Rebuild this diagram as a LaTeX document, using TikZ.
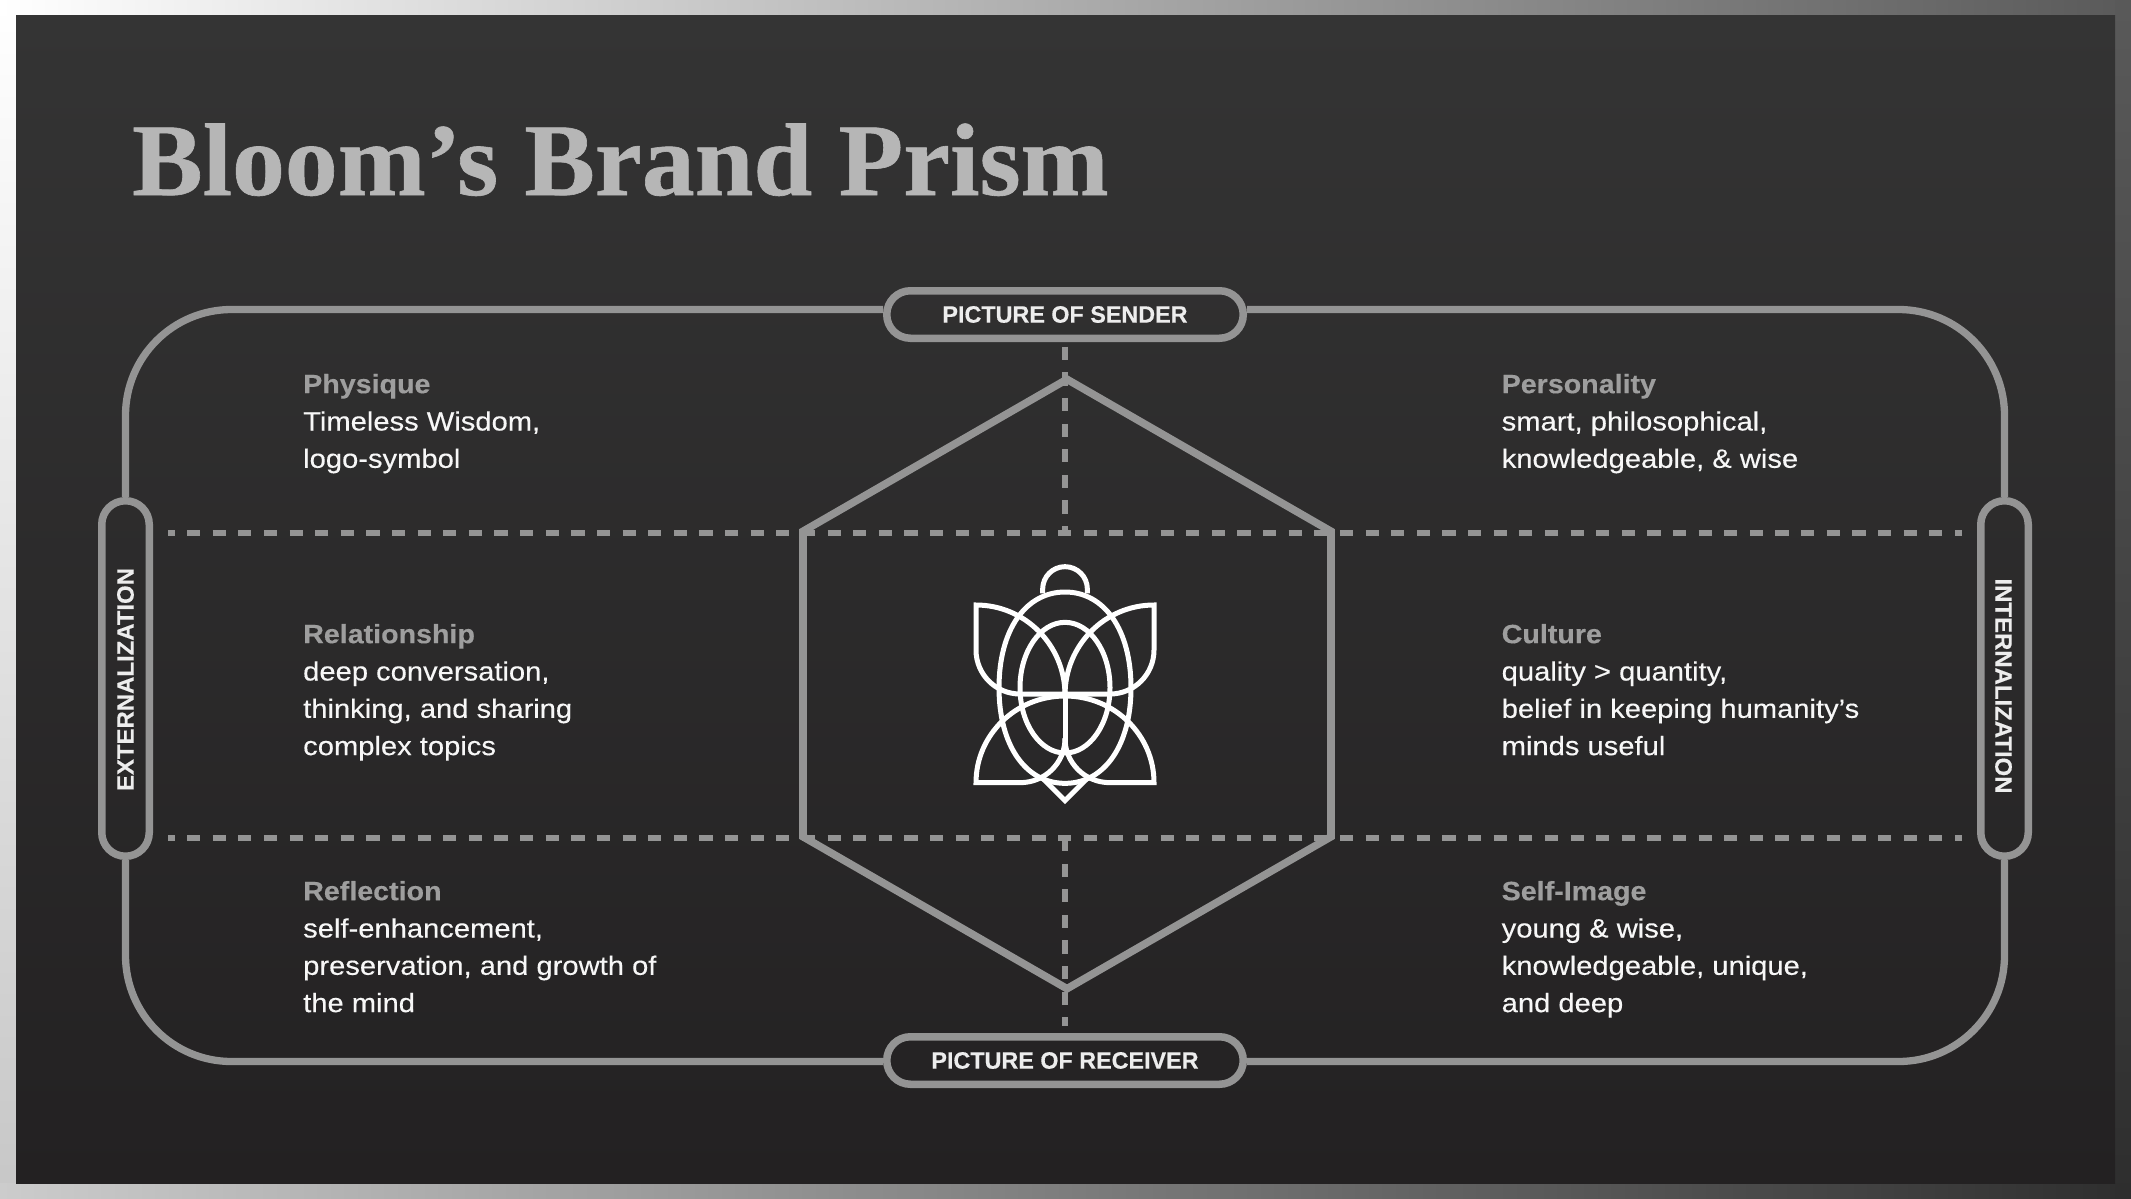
\documentclass[tikz,border=0pt]{standalone}
\usepackage{fontspec}
\setmainfont{Liberation Sans}
\newfontfamily\titlef[BoldFeatures={FakeStretch=1.026,FakeBold=0.6}]{Liberation Serif}
\newfontfamily\bodyf[FakeStretch=1.10,FakeBold=0.25,BoldFeatures={FakeStretch=1.08,FakeBold=0.3}]{Liberation Sans}
\newfontfamily\pillf[BoldFeatures={FakeStretch=0.985,FakeBold=0.35}]{Liberation Sans}
\newfontfamily\sidef[BoldFeatures={FakeStretch=1.01,FakeBold=0.35}]{Liberation Sans}
\definecolor{linec}{HTML}{949494}
\definecolor{headc}{HTML}{9E9E9E}
\definecolor{bodyc}{HTML}{F7F7F7}
\definecolor{pillc}{HTML}{EDEDED}
\definecolor{titlec}{HTML}{B6B6B6}
\tikzset{
  pillbox/.style={draw=linec,line width=7.5pt,inner sep=0pt,rounded corners=23.7pt,
    font=\pillf\bfseries\fontsize{23.7}{28}\selectfont,text=pillc},
  sidelabel/.style={font=\sidef\bfseries\fontsize{23.7}{28}\selectfont,text=pillc,inner sep=0pt},
  wire/.style={draw=linec,line width=7.3pt},
  hexline/.style={draw=linec,line width=7.6pt,miter limit=10},
  dashrule/.style={draw=linec,line width=6pt,dash pattern=on 13.2pt off 12.42pt},
  block/.style={anchor=north west,inner sep=0pt,align=left,text=bodyc,
    font=\bodyf\fontsize{26.5}{37.3}\selectfont},
  turtle/.style={draw=white,line width=5pt,miter limit=10}
}
\newcommand{\blockhead}[1]{\rule{0pt}{20pt}{\bfseries\color{headc}#1}}
\begin{document}
\begin{tikzpicture}[x=1pt,y=-1pt]
\useasboundingbox (0,0) rectangle (2131,1199);
% frame
\shade[top color=white,bottom color=white!78!black] (0,0) rectangle (16,1199);
\shade[left color=white,right color=black!65!white] (0,0) rectangle (2131,16);
\shade[left color=white!80!black,right color=black!82!white] (0,1183) rectangle (2131,1199);
\shade[top color=black!65!white,bottom color=black!82!white] (2115,0) rectangle (2131,1199);
% panel
\shade[top color={rgb,255:red,52;green,52;blue,52},bottom color={rgb,255:red,35;green,33;blue,34}] (16,16) rectangle (2115,1183);
% title
\node[anchor=base west,inner sep=0pt,text=titlec,font=\titlef\bfseries\fontsize{103}{110}\selectfont] (title) at (132,195) {Bloom’s Brand Prism};
% pills
\node[pillbox,minimum width=356.5pt,minimum height=47.5pt] (sender) at (1065,314.5) {PICTURE OF SENDER};
\node[pillbox,minimum width=356.5pt,minimum height=47.5pt] (receiver) at (1065,1060.5) {PICTURE OF RECEIVER};
\node[pillbox,minimum width=47.5pt,minimum height=355.5pt] (ext) at (125.5,678.5) {};
\node[pillbox,minimum width=47.5pt,minimum height=355.5pt] (int) at (2004.5,678.5) {};
\node[sidelabel,rotate=90] (extlabel) at ([yshift=-1pt]ext.center) {EXTERNALIZATION};
\node[sidelabel,rotate=-90] (intlabel) at ([yshift=-7.5pt,xshift=-1pt]int.center) {INTERNALIZATION};
% outer connectors
\draw[wire,rounded corners=106pt] ([yshift=5pt]sender.west) -| (ext.north);
\draw[wire,rounded corners=106pt] ([yshift=5pt]sender.east) -| (int.north);
\draw[wire,rounded corners=106pt] ([yshift=-1pt]receiver.west) -| (ext.south);
\draw[wire,rounded corners=106pt] ([yshift=-1pt]receiver.east) -| (int.south);
% dashed rules
\coordinate (ra) at (168,533);\coordinate (rb) at (1962,533);
\coordinate (rc) at (168,838);\coordinate (rd) at (1962,838);
\coordinate (va) at (1065,346.7);\coordinate (vb) at (1065,533);
\coordinate (vc) at (1065,838);\coordinate (vd) at (1065,1026);
\draw[dashrule,dash phase=6.6pt] (ra) -- (rb);
\draw[dashrule,dash phase=6.6pt] (rc) -- (rd);
\draw[dashrule] (va) -- (vb);
\draw[dashrule] (vc) -- (vd);
% hexagon
\draw[hexline] (1067,379.3) -- (1331,531.3) -- (1331,836.7) -- (1067,988.7) -- (803,836.7) -- (803,531.3) -- cycle;
% texts
\node[block] (physique) at (303,373) {\blockhead{Physique}\\Timeless Wisdom,\\logo-symbol};
\node[block] (relationship) at (303,623) {\blockhead{Relationship}\\deep conversation,\\thinking, and sharing\\complex topics};
\node[block] (reflection) at (303,880) {\blockhead{Reflection}\\self-enhancement,\\preservation, and growth of\\the mind};
\node[block] (personality) at (1501.5,373) {\blockhead{Personality}\\smart, philosophical,\\knowledgeable, \& wise};
\node[block] (culture) at (1501.5,623) {\blockhead{Culture}\\quality > quantity,\\belief in keeping humanity’s\\minds useful};
\node[block] (selfimage) at (1501.5,880) {\blockhead{Self-Image}\\young \& wise,\\knowledgeable, unique,\\and deep};
% turtle
\begin{scope}[shift={(1065,540)},scale=1/3]
  \draw[turtle] (-67,160) -- (-67,147) .. controls (-67,110) and (-37,80) .. (0,80) .. controls (37,80) and (67,110) .. (67,147) -- (67,160);
  % shell: slightly fuller than an ellipse
  \draw[turtle] (0,156) .. controls (119,156) and (198,271) .. (198,443) .. controls (198,615) and (119,730) .. (0,730) .. controls (-119,730) and (-198,615) .. (-198,443) .. controls (-198,271) and (-119,156) .. (0,156) -- cycle;
  \draw[turtle] (0,443) ellipse [x radius=135,y radius=196];
  \draw[turtle] (0,465) -- (0,640);
  \draw[turtle] (-70,712) -- (0,782) -- (70,712);
  \foreach \s in {1,-1}{
    \begin{scope}[xscale=\s]
      \draw[turtle] (0,462) -- (-135,462) .. controls (-208,462) and (-267,403) .. (-267,330) -- (-267,195) .. controls (-119.5,195) and (0,316) .. (0,465);
      \draw[turtle] (0,468) .. controls (-147.5,468) and (-267,584.4) .. (-267,728) -- (-135,728) .. controls (-60,728) and (0,669) .. (0,595);
    \end{scope}
  }
\end{scope}
\end{tikzpicture}
\end{document}
